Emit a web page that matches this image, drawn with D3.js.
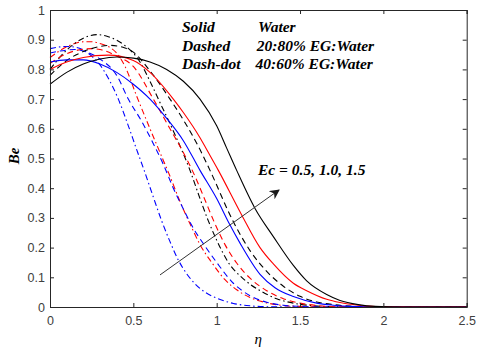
<!DOCTYPE html>
<html><head><meta charset="utf-8">
<script src="https://cdn.jsdelivr.net/npm/d3@7"></script>
<style>html,body{margin:0;padding:0;background:#fff;}</style>
</head><body>
<svg id="c" width="480" height="349"></svg>
<script>
// ---- data ----
const xTicks = [0, 0.5, 1, 1.5, 2, 2.5];
const yTicks = [0, 0.1, 0.2, 0.3, 0.4, 0.5, 0.6, 0.7, 0.8, 0.9, 1];

// Ec = 1.5 (black)
const etaKS  = [0,0.1,0.2,0.3,0.4,0.5,0.6,0.7,0.8,0.9,1.0,1.06,1.12,1.23,1.34,1.46,1.54,1.66,1.74,1.85,1.95,2.1,2.5];
const beKS   = [0.75,0.79,0.818,0.835,0.842,0.838,0.825,0.80,0.76,0.70,0.61,0.535,0.46,0.332,0.237,0.14,0.088,0.042,0.022,0.008,0.002,0,0];
const etaKD  = [0,0.1,0.2,0.3,0.36,0.45,0.5,0.6,0.72,0.8,0.9,0.96,1.1,1.2,1.3,1.4,1.5,1.6,1.7,1.8,1.9,2.5];
const beKD   = [0.78,0.83,0.86,0.877,0.881,0.872,0.858,0.795,0.70,0.63,0.53,0.46,0.287,0.19,0.12,0.07,0.036,0.017,0.008,0.003,0,0];
const etaKDD = [0,0.1,0.2,0.28,0.35,0.45,0.54,0.6,0.65,0.75,0.84,0.9,0.95,1.0,1.07,1.16,1.26,1.36,1.46,1.56,1.7,2.5];
const beKDD  = [0.80,0.865,0.905,0.917,0.91,0.88,0.825,0.76,0.70,0.58,0.46,0.365,0.29,0.225,0.15,0.095,0.055,0.028,0.013,0.005,0.001,0];
// Ec = 1.0 (red)
const etaRS  = [0,0.1,0.2,0.35,0.5,0.6,0.74,0.8,0.9,0.94,1.01,1.15,1.26,1.34,1.46,1.54,1.66,1.74,1.85,2.0,2.1,2.5];
const beRS   = [0.80,0.825,0.84,0.848,0.83,0.79,0.70,0.655,0.57,0.53,0.46,0.31,0.20,0.145,0.08,0.055,0.026,0.015,0.006,0.001,0,0];
const etaRD  = [0,0.1,0.2,0.25,0.3,0.4,0.5,0.62,0.72,0.8,0.87,0.93,0.99,1.05,1.12,1.2,1.3,1.4,1.5,1.6,1.7,2.5];
const beRD   = [0.82,0.853,0.868,0.87,0.867,0.845,0.81,0.70,0.60,0.52,0.44,0.36,0.28,0.21,0.148,0.097,0.055,0.028,0.013,0.005,0.001,0];
const etaRDD = [0,0.1,0.2,0.25,0.3,0.4,0.45,0.52,0.6,0.66,0.72,0.78,0.84,0.9,0.97,1.05,1.12,1.2,1.3,1.4,1.5,1.6,2.5];
const beRDD  = [0.84,0.876,0.893,0.893,0.887,0.855,0.81,0.71,0.60,0.52,0.44,0.355,0.28,0.21,0.15,0.092,0.058,0.032,0.014,0.005,0.002,0,0];
// Ec = 0.5 (blue)
const etaBS  = [0,0.1,0.2,0.3,0.4,0.5,0.6,0.7,0.8,0.9,1.0,1.076,1.14,1.26,1.35,1.46,1.6,1.7,1.8,2.0,2.5];
const beBS   = [0.825,0.832,0.832,0.818,0.79,0.75,0.70,0.635,0.56,0.46,0.365,0.28,0.215,0.11,0.065,0.035,0.013,0.006,0.002,0,0];
const etaBD  = [0,0.1,0.15,0.2,0.3,0.4,0.47,0.55,0.62,0.68,0.74,0.8,0.85,0.93,1.0,1.1,1.2,1.3,1.4,1.5,1.6,2.5];
const beBD   = [0.855,0.865,0.867,0.862,0.835,0.78,0.70,0.625,0.55,0.48,0.40,0.33,0.275,0.205,0.15,0.08,0.038,0.016,0.006,0.002,0,0];
const etaBDD = [0,0.05,0.1,0.15,0.2,0.25,0.3,0.35,0.41,0.47,0.52,0.565,0.62,0.67,0.72,0.77,0.82,0.87,0.93,1.0,1.1,1.2,1.3,1.5,2.5];
const beBDD  = [0.870,0.875,0.877,0.875,0.865,0.845,0.815,0.77,0.70,0.61,0.53,0.46,0.37,0.29,0.22,0.158,0.112,0.078,0.05,0.03,0.012,0.004,0.001,0,0];

const legendStyles = ["Solid", "Dashed", "Dash-dot"];
const legendFluids = ["Water", "20:80% EG:Water", "40:60% EG:Water"];
const arrowFrom = [0.66, 0.108];
const arrowTo = [1.374, 0.394];
const ecLabel = "Ec = 0.5, 1.0, 1.5";

// ---- chart ----
const W = 480, H = 349;
const m = {l: 50, t: 10, r: 13.3, b: 42};
const iw = W - m.l - m.r, ih = H - m.t - m.b;
const svg = d3.select("#c");
const g = svg.append("g").attr("transform", `translate(${m.l},${m.t})`);
const x = d3.scaleLinear().domain([0, 2.5]).range([0, iw]);
const y = d3.scaleLinear().domain([0, 1]).range([ih, 0]);

const series = [
  {eta: etaBDD, be: beBDD, c: "#0000ff", d: "6,3,1.5,3"},
  {eta: etaRDD, be: beRDD, c: "#ff0000", d: "6,3,1.5,3"},
  {eta: etaKDD, be: beKDD, c: "#000000", d: "6,3,1.5,3"},
  {eta: etaBD, be: beBD, c: "#0000ff", d: "6,4"},
  {eta: etaRD, be: beRD, c: "#ff0000", d: "6,4"},
  {eta: etaKD, be: beKD, c: "#000000", d: "6,4"},
  {eta: etaBS, be: beBS, c: "#0000ff", d: null},
  {eta: etaRS, be: beRS, c: "#ff0000", d: null},
  {eta: etaKS, be: beKS, c: "#000000", d: null},
];
const line = d3.line().x(d => x(d[0])).y(d => y(d[1])).curve(d3.curveMonotoneX);
series.forEach(s => {
  g.append("path").datum(d3.zip(s.eta, s.be))
    .attr("d", line).attr("fill", "none").attr("stroke", s.c)
    .attr("stroke-width", 1.1).attr("stroke-dasharray", s.d);
});

// axes
const axCol = "#262626";
const tickFont = "Liberation Sans, Arial, sans-serif";
const xa = g.append("g").attr("transform", `translate(0,${ih})`)
  .call(d3.axisBottom(x).tickValues(xTicks).tickSize(-4).tickPadding(9).tickFormat(d3.format("")));
const xt = g.append("g").call(d3.axisTop(x).tickValues(xTicks).tickSize(-4).tickFormat(""));
const ya = g.append("g").call(d3.axisLeft(y).tickValues(yTicks).tickSize(-4).tickPadding(5).tickFormat(d3.format("")));
const yr = g.append("g").attr("transform", `translate(${iw},0)`)
  .call(d3.axisRight(y).tickValues(yTicks).tickSize(-4).tickFormat(""));
[xa, xt, ya, yr].forEach(a => {
  a.selectAll("path").attr("stroke", axCol).attr("stroke-width", 1);
  a.selectAll("line").attr("stroke", axCol);
  a.selectAll("text").attr("fill", "#404040").style("font-family", tickFont).style("font-size", "12.5px");
});

// axis labels
const lf = "Liberation Serif, Times New Roman, serif";
svg.append("text").attr("transform", "translate(19,156) rotate(-90)")
  .attr("text-anchor", "middle").style("font-family", lf)
  .style("font-size", "15px").style("font-weight", "bold").style("font-style", "italic").text("Be");
svg.append("text").attr("x", x(1.25) + m.l).attr("y", 344)
  .attr("text-anchor", "middle").style("font-family", lf)
  .style("font-size", "15px").style("font-style", "italic").text("η");

// legend text
legendStyles.forEach((t, i) => {
  svg.append("text").attr("x", 182).attr("y", 32 + i * 18.5)
    .style("font-family", lf).style("font-size", "15.5px").style("font-weight", "bold").style("font-style", "italic").text(t);
});
legendFluids.forEach((t, i) => {
  svg.append("text").attr("x", 258 - i * 1.2).attr("y", 32 + i * 18.5)
    .style("font-family", lf).style("font-size", "15.5px").style("font-weight", "bold").style("font-style", "italic").text(t);
});

// arrow annotation
const defs = svg.append("defs");
defs.append("marker").attr("id", "ah").attr("viewBox", "0 0 10 10").attr("refX", 9).attr("refY", 5)
  .attr("markerWidth", 10).attr("markerHeight", 10).attr("markerUnits", "userSpaceOnUse").attr("orient", "auto")
  .append("path").attr("d", "M0,0 L10,5 L0,10 L3,5 Z").attr("fill", "#1a1a1a");
g.append("line").attr("x1", x(arrowFrom[0])).attr("y1", y(arrowFrom[1]))
  .attr("x2", x(arrowTo[0])).attr("y2", y(arrowTo[1]))
  .attr("stroke", "#333").attr("stroke-width", 1).attr("marker-end", "url(#ah)");
svg.append("text").attr("x", 258).attr("y", 175)
  .style("font-family", lf).style("font-size", "15.5px").style("font-weight", "bold").style("font-style", "italic").text(ecLabel);
</script>
</body></html>
